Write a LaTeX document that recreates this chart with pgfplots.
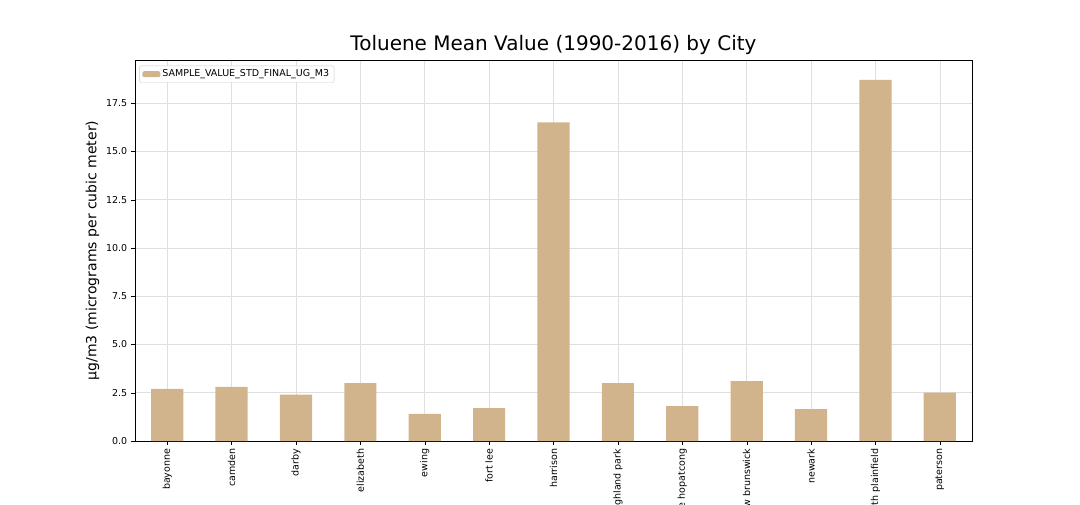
\documentclass[border=0pt]{standalone}
\usepackage{pgfplots}
\pgfplotsset{compat=1.18}
\usepackage{fontspec}
\setmainfont{DejaVu Sans}
\definecolor{tanc}{RGB}{210,180,140}
\begin{document}
\begin{tikzpicture}[x=1pt,y=1pt]
\useasboundingbox (0,0) rectangle (1080,504);
\clip (0,0) rectangle (1080,504);
\fill[white] (0,0) rectangle (1080,504);
\begin{axis}[at={(135pt,63pt)},anchor=south west,scale only axis,
 width=837pt,height=381pt,
 xmin=-0.5,xmax=12.5,ymin=0,ymax=19.73,
 xtick={0,...,12},
 xticklabels={bayonne,camden,darby,elizabeth,ewing,fort lee,harrison,highland park,lake hopatcong,new brunswick,newark,south plainfield,paterson},
 xticklabel style={rotate=90,anchor=east,font=\fontsize{9.5}{11}\selectfont},
 ytick={0,2.5,...,17.5},
 yticklabel style={font=\fontsize{9.5}{11}\selectfont},
 /pgf/number format/assume math mode=true,
 /pgf/number format/.cd,fixed,fixed zerofill,precision=1,/pgfplots/.cd,
 grid=major,grid style={gray!25,line width=0.5pt},
 tick style={black},tick align=outside,tickpos=left,
 ylabel={µg/m3 (micrograms per cubic meter)},
 ylabel style={font=\fontsize{14}{16}\selectfont},
 title={Toluene Mean Value (1990-2016) by City},
 title style={font=\fontsize{20}{22}\selectfont,yshift=-4pt},
 legend style={at={(0.005,0.985)},anchor=north west,font=\fontsize{9.5}{11}\selectfont,draw=gray!40,rounded corners=2pt},
 legend image code/.code={\fill[tanc] (0pt,-3pt) rectangle (18pt,3pt);},
]
\addplot[ybar,bar width=0.5,fill=tanc,draw=none] coordinates {
(0,2.7)(1,2.8)(2,2.4)(3,3.0)(4,1.4)(5,1.7)(6,16.5)(7,3.0)(8,1.8)(9,3.1)(10,1.65)(11,18.7)(12,2.5)};
\addlegendentry{SAMPLE\_VALUE\_STD\_FINAL\_UG\_M3}
\end{axis}
\end{tikzpicture}
\end{document}
